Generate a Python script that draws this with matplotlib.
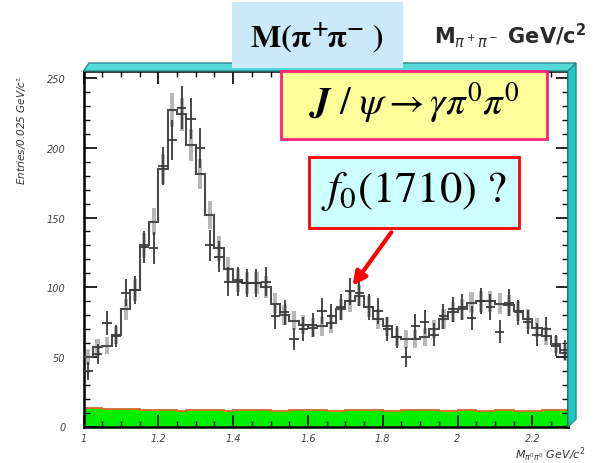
import numpy as np
import matplotlib
matplotlib.use('Agg')
import matplotlib.pyplot as plt
from matplotlib.patches import Polygon, Rectangle, FancyArrowPatch
from matplotlib.ticker import MultipleLocator, FixedLocator

# bins of 0.025 GeV/c^2 from 1.0 to 2.3
bin_edges = [1.0 + 0.025 * i for i in range(53)]

# data counts (crosses)
data = [40, 52, 74, 65, 96, 98, 129, 128, 187, 206,
        229, 221, 200, 130, 122, 104, 104, 103, 103, 104,
        79, 82, 63, 70, 73, 83, 79, 86, 97, 96,
        86, 83, 70, 64, 50, 72, 75, 66, 79, 84,
        86, 78, 90, 86, 68, 89, 82, 75, 66, 70,
        58, 55]

# fit / MC histogram (dark step line)
mc = [50, 57, 58, 66, 84, 98, 130, 147, 185, 227,
      224, 202, 181, 152, 128, 113, 105, 103, 103, 100,
      88, 80, 76, 73, 71, 72, 74, 84, 90, 94,
      86, 77, 72, 64, 63, 63, 64, 70, 77, 82,
      84, 89, 90, 90, 88, 87, 83, 77, 71, 65,
      59, 53]

# background (green band)
bkg = [13, 13, 12.5, 12.5, 12.5, 12.5, 12, 12, 11.5, 11.5,
       11, 11.5, 12, 11.5, 11.5, 11, 11.5, 12, 11.5, 11.5,
       11, 11, 11.5, 12, 11.5, 11.5, 11, 11, 11.5, 12,
       11.5, 11.5, 11, 11, 11.5, 12, 12, 11.5, 11, 11,
       11.5, 11.5, 11, 11, 11.5, 11.5, 11, 11, 11, 11.5,
       12, 12]

x_ticks = [1.0, 1.2, 1.4, 1.6, 1.8, 2.0, 2.2]
x_tick_labels = ['1', '1.2', '1.4', '1.6', '1.8', '2', '2.2']
y_ticks = [0, 50, 100, 150, 200, 250]

plt.rcParams['mathtext.fontset'] = 'stix'

W, H = 597, 464
fig = plt.figure(figsize=(W / 100, H / 100), dpi=100)


def fx(x):
    return x / W


def fy(y):
    return 1 - y / H


ax = fig.add_axes([fx(83.5), fy(427.5), (568 - 83.5) / W, (427.5 - 72) / H])

edges = np.array(bin_edges)
centers = edges[:-1] + 0.0125
data = np.array(data, dtype=float)
mc = np.array(mc, dtype=float)
bkg = np.array(bkg, dtype=float)

# green background band
ax.fill_between(edges, np.r_[bkg, bkg[-1]], step='post', color='#00ee00', lw=0, zorder=1)
ax.stairs(bkg, edges, baseline=None, color='#d8682a', lw=1.3, zorder=2)

# grey band around the fit
err_mc = 0.8 * np.sqrt(mc)
ax.bar(centers, 2 * err_mc, bottom=mc - err_mc, width=0.011, color='#b8b8b8', lw=0, zorder=2)

# fit histogram
ax.stairs(mc, edges, baseline=None, color='#4a4a4a', lw=1.5, zorder=3)

# data crosses
ax.errorbar(centers, data, yerr=np.sqrt(data), xerr=0.0125, fmt='none',
            ecolor='#3a3a3a', elinewidth=1.3, capsize=0, zorder=4)

ax.set_xlim(1.0, 1 + 484.5 / 374)
ax.set_ylim(0, 355.5 / 1.393)

ax.xaxis.set_major_locator(FixedLocator(x_ticks))
ax.set_xticklabels(x_tick_labels)
ax.xaxis.set_minor_locator(MultipleLocator(0.05))
ax.yaxis.set_major_locator(FixedLocator(y_ticks))
ax.yaxis.set_minor_locator(MultipleLocator(10))

ax.tick_params(which='major', direction='in', length=9, width=1.2,
               top=True, right=True, labelsize=7, labelcolor='#444444')
ax.tick_params(axis='y', which='major', pad=13)
ax.tick_params(axis='x', which='major', pad=5)
ax.tick_params(which='minor', direction='in', length=4.5, width=1, top=True, right=True)
for lbl in ax.get_xticklabels() + ax.get_yticklabels():
    lbl.set_style('italic')
for sp in ax.spines.values():
    sp.set_linewidth(1.8)
ax.set_axisbelow(False)

# 3D frame (cyan)
top_band = Polygon([(fx(83.5), fy(72)), (fx(568), fy(72)), (fx(576), fy(64)), (fx(89), fy(64))],
                   closed=True, transform=fig.transFigure, facecolor='#55d8d8',
                   edgecolor='#2a8a8a', lw=1, zorder=1)
right_band = Polygon([(fx(568), fy(72)), (fx(576), fy(64)), (fx(576), fy(420)), (fx(568), fy(428))],
                     closed=True, transform=fig.transFigure, facecolor='#1ec8c8',
                     edgecolor='#2a8a8a', lw=1, zorder=1)
fig.add_artist(top_band)
fig.add_artist(right_band)

# axis titles
fig.text(fx(22), fy(130), 'Entries/0.025 GeV/c$^2$', rotation=90, ha='center', va='center',
         fontsize=7.5, color='#333333', style='italic')
fig.text(fx(585), fy(455), r'M$_{\pi^0\pi^0}$ GeV/c$^2$', ha='right', va='center',
         fontsize=8, color='#333333', style='italic', math_fontfamily='dejavusans')
fig.text(fx(586), fy(36), r'M$_{\pi^+\pi^-}$ GeV/c$^\mathbf{2}$', ha='right', va='center',
         fontsize=15, color='#2a2a2a', fontweight='bold', math_fontfamily='dejavusans')

# boxes with labels
fig.add_artist(Rectangle((fx(232), fy(69)), (403 - 232) / W, (69 - 3) / H,
                         transform=fig.transFigure, facecolor='#cce9f9', edgecolor='none', zorder=5))
fig.text(fx(317), fy(38), r'$\mathbf{M(\pi^{+}\!\pi^{-}\ )}$', ha='center', va='center',
         fontsize=23, color='black', zorder=6)

fig.add_artist(Rectangle((fx(281), fy(140)), (547 - 281) / W, (140 - 72) / H,
                         transform=fig.transFigure, facecolor='#ffff99', edgecolor='#ff2277',
                         lw=2, zorder=5))
fig.text(fx(414), fy(103), r'$\mathbfit{J}\ /\ \psi \rightarrow \gamma\pi^{0}\pi^{0}$', ha='center',
         va='center', fontsize=28, color='black', zorder=6)

fig.add_artist(Rectangle((fx(309), fy(229)), (519 - 309) / W, (229 - 158) / H,
                         transform=fig.transFigure, facecolor='#ccffff', edgecolor='#ff0000',
                         lw=2, zorder=5))
fig.text(fx(414), fy(192), r'$f_0\mathrm{(1710)\ ?}$', ha='center', va='center',
         fontsize=32, color='black', zorder=6)

arrow = FancyArrowPatch((fx(393), fy(231)), (fx(351), fy(289)), transform=fig.transFigure,
                        arrowstyle='-|>', mutation_scale=20, color='#ff0000', lw=3, zorder=6)
fig.add_artist(arrow)

fig.savefig('out.png', dpi=100)
